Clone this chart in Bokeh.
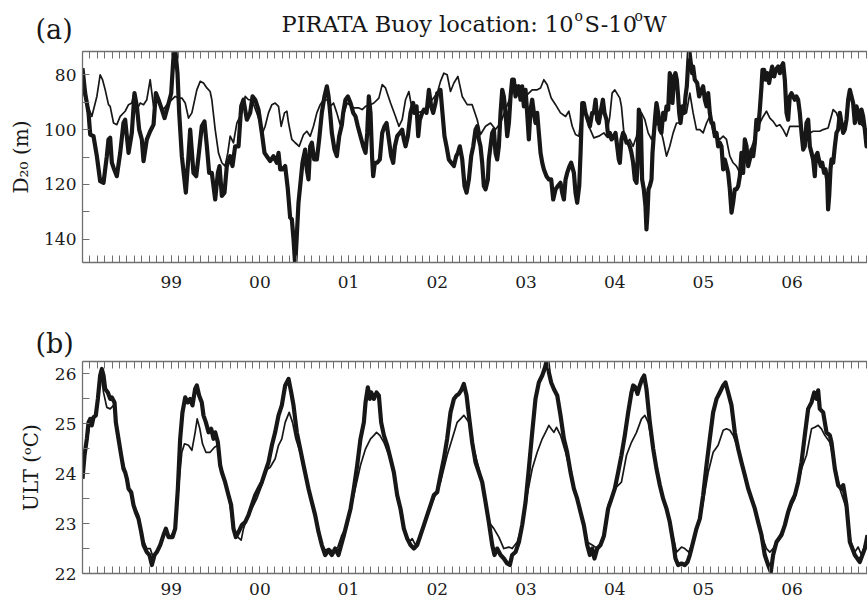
from bokeh.core.properties import value
from bokeh.embed import file_html
from bokeh.layouts import column, row
from bokeh.models import CustomJSTickFormatter, FixedTicker, LinearAxis, Range1d
from bokeh.plotting import figure
from bokeh.resources import INLINE

# ---------------------------------------------------------------------------
# PIRATA buoy 10S-10W: 20-degree isotherm depth (m) and upper-layer temperature
# (degC). Times are decimal years; "thick" is the heavy curve, "thin" the light one.
# ---------------------------------------------------------------------------
D20_THICK = [
    (1998.000, 77.6), (1998.030, 86.7), (1998.068, 93.9), (1998.087, 101.8), (1998.124, 102.4),
    (1998.162, 109.7), (1998.199, 118.8), (1998.237, 119.4), (1998.274, 109.7), (1998.293, 103.6),
    (1998.312, 103.0), (1998.331, 112.1), (1998.350, 113.9), (1998.387, 117.0), (1998.425, 108.5),
    (1998.462, 97.6), (1998.481, 96.4), (1998.519, 108.5), (1998.556, 101.2), (1998.586, 86.7),
    (1998.613, 91.5), (1998.639, 100.0), (1998.669, 103.6), (1998.688, 111.5), (1998.725, 103.6),
    (1998.763, 100.6), (1998.801, 98.2), (1998.827, 86.7), (1998.857, 89.1), (1998.895, 92.7),
    (1998.925, 95.8), (1998.962, 91.5), (1999.000, 86.7), (1999.026, 73.3), (1999.045, 70.5),
    (1999.071, 79.4), (1999.090, 93.9), (1999.120, 109.7), (1999.165, 123.0), (1999.195, 109.7),
    (1999.214, 100.0), (1999.251, 115.8), (1999.282, 117.0), (1999.308, 109.7), (1999.345, 98.8),
    (1999.375, 97.0), (1999.402, 106.1), (1999.428, 115.8), (1999.458, 115.8), (1999.496, 125.5),
    (1999.526, 115.8), (1999.545, 113.3), (1999.571, 124.2), (1999.601, 123.0), (1999.627, 113.3),
    (1999.665, 109.7), (1999.691, 113.3), (1999.721, 106.1), (1999.759, 106.1), (1999.789, 91.5),
    (1999.815, 89.1), (1999.853, 96.4), (1999.890, 93.9), (1999.917, 87.9), (1999.947, 89.1),
    (1999.984, 92.7), (2000.022, 101.2), (2000.052, 108.5), (2000.078, 109.7), (2000.116, 111.5),
    (2000.153, 109.7), (2000.191, 112.1), (2000.210, 108.5), (2000.229, 114.5), (2000.255, 114.5),
    (2000.285, 113.3), (2000.315, 121.8), (2000.341, 132.1), (2000.360, 132.7), (2000.379, 140.0),
    (2000.398, 149.5), (2000.416, 138.8), (2000.435, 126.7), (2000.454, 120.6), (2000.480, 112.1),
    (2000.510, 107.3), (2000.529, 114.5), (2000.548, 118.2), (2000.567, 106.1), (2000.586, 104.8),
    (2000.612, 110.9), (2000.642, 110.9), (2000.668, 103.6), (2000.698, 93.9), (2000.728, 87.9),
    (2000.755, 84.2), (2000.774, 87.9), (2000.792, 93.9), (2000.811, 101.2), (2000.841, 107.3),
    (2000.867, 109.7), (2000.894, 102.4), (2000.924, 98.2), (2000.939, 93.9), (2000.965, 89.1),
    (2000.992, 87.9), (2001.022, 90.3), (2001.052, 93.9), (2001.078, 95.2), (2001.104, 98.8),
    (2001.134, 102.4), (2001.165, 106.1), (2001.191, 108.5), (2001.210, 101.2), (2001.228, 87.9),
    (2001.247, 93.9), (2001.266, 110.9), (2001.277, 117.0), (2001.296, 112.1), (2001.322, 112.1),
    (2001.352, 110.9), (2001.379, 101.2), (2001.405, 98.8), (2001.428, 97.6), (2001.454, 103.6),
    (2001.480, 109.7), (2001.503, 112.1), (2001.522, 106.1), (2001.548, 102.4), (2001.578, 101.2),
    (2001.604, 100.0), (2001.623, 103.6), (2001.642, 106.1), (2001.668, 102.4), (2001.698, 93.9),
    (2001.728, 90.3), (2001.743, 93.9), (2001.766, 91.5), (2001.785, 102.4), (2001.803, 96.4),
    (2001.830, 93.9), (2001.849, 92.7), (2001.879, 93.9), (2001.905, 85.5), (2001.931, 91.5),
    (2001.954, 93.9), (2001.980, 90.3), (2001.999, 86.7), (2002.018, 86.7), (2002.036, 85.5),
    (2002.055, 92.7), (2002.081, 102.4), (2002.104, 106.1), (2002.130, 110.9), (2002.157, 112.1),
    (2002.187, 113.3), (2002.213, 109.7), (2002.232, 108.5), (2002.254, 106.1), (2002.281, 110.9),
    (2002.307, 120.6), (2002.330, 123.0), (2002.356, 118.2), (2002.382, 109.7), (2002.405, 106.1),
    (2002.431, 100.0), (2002.450, 98.8), (2002.469, 103.6), (2002.487, 106.1), (2002.506, 112.1),
    (2002.525, 120.6), (2002.544, 121.8), (2002.570, 118.2), (2002.581, 110.9), (2002.600, 106.1),
    (2002.619, 101.2), (2002.638, 100.0), (2002.656, 108.5), (2002.675, 110.9), (2002.694, 106.1),
    (2002.713, 93.9), (2002.732, 85.5), (2002.750, 87.9), (2002.769, 93.9), (2002.788, 102.4),
    (2002.807, 97.6), (2002.826, 87.9), (2002.844, 81.8), (2002.863, 81.8), (2002.882, 87.9),
    (2002.901, 85.5), (2002.920, 84.2), (2002.938, 89.1), (2002.957, 84.2), (2002.976, 91.5),
    (2002.995, 85.5), (2003.013, 93.9), (2003.032, 103.6), (2003.051, 92.7), (2003.070, 89.1),
    (2003.089, 93.9), (2003.107, 97.6), (2003.126, 93.9), (2003.145, 101.2), (2003.164, 108.5),
    (2003.183, 112.1), (2003.201, 114.5), (2003.231, 117.0), (2003.258, 118.2), (2003.284, 118.2),
    (2003.307, 125.5), (2003.333, 121.8), (2003.359, 120.6), (2003.389, 119.4), (2003.408, 123.0),
    (2003.427, 125.5), (2003.446, 118.2), (2003.464, 115.8), (2003.491, 113.3), (2003.509, 112.1),
    (2003.540, 115.8), (2003.558, 123.0), (2003.577, 126.7), (2003.600, 120.6), (2003.615, 108.5),
    (2003.634, 90.3), (2003.652, 90.3), (2003.671, 93.9), (2003.697, 96.4), (2003.720, 98.8),
    (2003.746, 93.9), (2003.765, 93.9), (2003.784, 89.1), (2003.803, 96.4), (2003.821, 97.6),
    (2003.840, 93.9), (2003.867, 89.1), (2003.885, 93.9), (2003.908, 96.4), (2003.926, 102.4),
    (2003.945, 101.2), (2003.964, 103.6), (2003.990, 102.4), (2004.009, 101.2), (2004.028, 106.1),
    (2004.046, 110.9), (2004.058, 112.1), (2004.076, 103.6), (2004.095, 101.2), (2004.114, 102.4),
    (2004.133, 104.8), (2004.152, 104.8), (2004.170, 106.1), (2004.189, 108.5), (2004.208, 112.1),
    (2004.227, 118.2), (2004.246, 119.4), (2004.257, 113.3), (2004.272, 92.7), (2004.283, 93.9),
    (2004.294, 96.4), (2004.309, 118.2), (2004.328, 121.8), (2004.347, 127.9), (2004.358, 136.4),
    (2004.370, 130.3), (2004.381, 121.8), (2004.396, 120.6), (2004.415, 118.2), (2004.426, 108.5),
    (2004.445, 100.0), (2004.460, 93.9), (2004.471, 90.3), (2004.490, 93.9), (2004.509, 100.0),
    (2004.527, 101.2), (2004.546, 93.9), (2004.565, 96.4), (2004.584, 91.5), (2004.603, 92.7),
    (2004.621, 79.4), (2004.640, 81.8), (2004.651, 90.3), (2004.670, 80.6), (2004.685, 79.4),
    (2004.700, 81.8), (2004.715, 87.9), (2004.727, 93.9), (2004.742, 97.6), (2004.764, 91.5),
    (2004.783, 93.9), (2004.798, 87.9), (2004.813, 84.2), (2004.828, 75.8), (2004.839, 70.5),
    (2004.858, 75.8), (2004.873, 79.4), (2004.884, 77.0), (2004.903, 81.8), (2004.930, 83.0),
    (2004.952, 87.9), (2004.978, 85.5), (2004.997, 84.2), (2005.016, 89.1), (2005.035, 91.5),
    (2005.054, 86.7), (2005.072, 93.9), (2005.091, 97.6), (2005.110, 97.6), (2005.129, 102.4),
    (2005.148, 101.2), (2005.166, 106.1), (2005.185, 104.8), (2005.204, 106.1), (2005.223, 114.5),
    (2005.241, 110.9), (2005.260, 113.3), (2005.279, 115.8), (2005.298, 121.8), (2005.317, 130.3),
    (2005.335, 126.7), (2005.354, 121.8), (2005.373, 121.8), (2005.392, 120.6), (2005.411, 117.0),
    (2005.429, 108.5), (2005.448, 115.8), (2005.467, 103.6), (2005.486, 106.1), (2005.505, 113.3),
    (2005.523, 110.9), (2005.542, 107.3), (2005.561, 109.7), (2005.580, 104.8), (2005.598, 96.4),
    (2005.617, 100.0), (2005.636, 92.7), (2005.655, 84.2), (2005.666, 78.2), (2005.685, 78.2),
    (2005.700, 81.8), (2005.719, 79.4), (2005.741, 83.0), (2005.760, 79.4), (2005.775, 77.0),
    (2005.798, 80.6), (2005.816, 78.2), (2005.843, 77.0), (2005.862, 79.4), (2005.880, 77.0),
    (2005.899, 75.8), (2005.918, 81.8), (2005.937, 93.9), (2005.955, 96.4), (2005.974, 87.9),
    (2005.993, 86.7), (2006.012, 87.9), (2006.031, 89.1), (2006.049, 87.9), (2006.068, 89.1),
    (2006.087, 93.9), (2006.106, 101.2), (2006.125, 107.3), (2006.143, 106.1), (2006.162, 97.6),
    (2006.181, 96.4), (2006.200, 106.1), (2006.219, 108.5), (2006.237, 110.9), (2006.256, 117.0),
    (2006.267, 109.7), (2006.286, 108.5), (2006.301, 110.9), (2006.324, 113.3), (2006.339, 112.1),
    (2006.361, 115.8), (2006.376, 114.5), (2006.395, 118.2), (2006.406, 129.1), (2006.418, 124.2),
    (2006.433, 114.5), (2006.444, 110.9), (2006.463, 112.1), (2006.482, 106.1), (2006.500, 101.2),
    (2006.519, 100.0), (2006.538, 93.9), (2006.557, 97.6), (2006.576, 101.2), (2006.594, 100.0),
    (2006.613, 96.4), (2006.632, 89.1), (2006.651, 85.5), (2006.670, 87.9), (2006.688, 90.3),
    (2006.707, 97.6), (2006.726, 91.5), (2006.745, 93.9), (2006.763, 97.6), (2006.782, 92.7),
    (2006.801, 95.2), (2006.820, 100.0), (2006.839, 106.1), (2006.860, 104.8),
]

D20_THIN = [
    (1998.000, 85.5), (1998.049, 90.3), (1998.105, 95.2), (1998.162, 87.9), (1998.199, 80.0),
    (1998.226, 81.8), (1998.256, 85.5), (1998.293, 90.9), (1998.312, 91.5), (1998.350, 97.6),
    (1998.387, 98.2), (1998.425, 95.2), (1998.481, 93.3), (1998.519, 90.9), (1998.556, 90.3),
    (1998.575, 87.3), (1998.613, 92.7), (1998.650, 90.3), (1998.688, 90.9), (1998.725, 89.1),
    (1998.763, 81.8), (1998.801, 91.5), (1998.838, 86.7), (1998.876, 90.9), (1998.913, 92.7),
    (1998.951, 90.9), (1998.988, 89.7), (1999.045, 87.9), (1999.082, 88.5), (1999.120, 88.5),
    (1999.158, 90.3), (1999.195, 95.8), (1999.233, 93.9), (1999.289, 85.5), (1999.327, 82.4),
    (1999.364, 83.0), (1999.402, 84.8), (1999.439, 86.1), (1999.458, 89.1), (1999.496, 100.0),
    (1999.533, 108.5), (1999.571, 112.1), (1999.608, 113.3), (1999.638, 108.5), (1999.665, 102.4),
    (1999.702, 104.8), (1999.740, 97.6), (1999.796, 93.9), (1999.834, 87.9), (1999.871, 89.1),
    (1999.909, 89.1), (1999.965, 93.9), (2000.003, 97.6), (2000.029, 101.2), (2000.059, 98.8),
    (2000.097, 93.9), (2000.135, 90.9), (2000.172, 90.3), (2000.210, 91.5), (2000.240, 98.8),
    (2000.277, 93.9), (2000.304, 93.3), (2000.323, 97.6), (2000.360, 103.6), (2000.398, 104.8),
    (2000.443, 106.1), (2000.492, 101.8), (2000.529, 100.6), (2000.567, 102.4), (2000.604, 98.8),
    (2000.642, 93.9), (2000.680, 90.9), (2000.717, 89.1), (2000.755, 89.1), (2000.792, 91.5),
    (2000.830, 90.3), (2000.867, 93.9), (2000.905, 98.2), (2000.984, 90.3), (2001.059, 92.1),
    (2001.116, 92.1), (2001.153, 92.7), (2001.191, 91.5), (2001.247, 90.9), (2001.285, 90.3),
    (2001.341, 88.5), (2001.379, 83.6), (2001.416, 84.8), (2001.473, 90.3), (2001.529, 95.2),
    (2001.567, 98.8), (2001.604, 96.4), (2001.642, 89.1), (2001.679, 86.1), (2001.717, 92.7),
    (2001.773, 93.9), (2001.830, 93.3), (2001.886, 91.5), (2001.942, 89.1), (2001.999, 86.7),
    (2002.036, 82.4), (2002.074, 79.4), (2002.111, 80.0), (2002.149, 86.1), (2002.187, 83.0),
    (2002.232, 80.6), (2002.281, 87.9), (2002.337, 90.9), (2002.393, 90.9), (2002.450, 96.4),
    (2002.487, 101.8), (2002.544, 98.8), (2002.600, 97.6), (2002.656, 100.0), (2002.713, 97.6),
    (2002.769, 92.7), (2002.826, 87.9), (2002.882, 83.6), (2002.920, 84.2), (2002.976, 88.5),
    (2003.032, 86.7), (2003.070, 85.5), (2003.126, 85.5), (2003.164, 84.8), (2003.201, 81.8),
    (2003.239, 83.6), (2003.284, 88.5), (2003.333, 90.9), (2003.389, 93.9), (2003.446, 95.2),
    (2003.483, 93.3), (2003.521, 98.8), (2003.558, 101.8), (2003.596, 102.4), (2003.622, 95.8),
    (2003.660, 93.3), (2003.709, 98.8), (2003.765, 103.0), (2003.821, 102.4), (2003.878, 101.2),
    (2003.907, 102.4), (2003.945, 95.2), (2003.971, 86.7), (2004.001, 85.5), (2004.058, 88.5),
    (2004.076, 91.5), (2004.107, 102.4), (2004.133, 104.8), (2004.170, 103.6), (2004.208, 106.1),
    (2004.246, 102.4), (2004.272, 97.6), (2004.302, 93.9), (2004.340, 96.4), (2004.377, 101.2),
    (2004.415, 103.6), (2004.445, 100.0), (2004.471, 97.6), (2004.509, 98.8), (2004.546, 103.6),
    (2004.584, 109.7), (2004.621, 106.1), (2004.659, 101.2), (2004.697, 97.6), (2004.734, 97.6),
    (2004.772, 93.9), (2004.809, 93.9), (2004.847, 86.7), (2004.884, 93.9), (2004.922, 100.0),
    (2004.960, 100.0), (2004.997, 101.2), (2005.035, 97.6), (2005.072, 95.2), (2005.110, 101.2),
    (2005.148, 102.4), (2005.185, 103.6), (2005.223, 102.4), (2005.260, 103.6), (2005.298, 109.7),
    (2005.335, 112.1), (2005.373, 113.3), (2005.411, 115.8), (2005.448, 113.3), (2005.486, 109.7),
    (2005.523, 108.5), (2005.561, 104.8), (2005.598, 100.0), (2005.636, 97.6), (2005.674, 95.2),
    (2005.711, 93.3), (2005.749, 95.8), (2005.786, 97.0), (2005.824, 98.8), (2005.862, 98.2),
    (2005.899, 100.0), (2005.937, 102.4), (2005.974, 98.8), (2006.012, 98.8), (2006.049, 98.8),
    (2006.087, 98.8), (2006.125, 101.2), (2006.162, 102.4), (2006.200, 101.2), (2006.237, 100.6),
    (2006.275, 100.6), (2006.312, 100.6), (2006.350, 100.0), (2006.406, 99.4), (2006.463, 92.7),
    (2006.500, 93.9), (2006.538, 97.6), (2006.576, 101.2), (2006.613, 97.6), (2006.651, 86.7),
    (2006.688, 91.5), (2006.726, 93.9), (2006.763, 97.6), (2006.801, 98.8), (2006.839, 100.0),
]

ULT_THICK = [
    (1998.000, 23.90), (1998.023, 24.37), (1998.049, 24.70), (1998.068, 25.03), (1998.087, 25.10),
    (1998.105, 24.97), (1998.124, 25.13), (1998.150, 25.17), (1998.173, 25.50), (1998.199, 25.97),
    (1998.218, 26.10), (1998.237, 25.97), (1998.256, 25.70), (1998.286, 25.63), (1998.312, 25.50),
    (1998.331, 25.53), (1998.361, 25.43), (1998.376, 25.03), (1998.406, 24.70), (1998.436, 24.37),
    (1998.462, 24.10), (1998.481, 24.03), (1998.500, 23.90), (1998.519, 23.70), (1998.549, 23.63),
    (1998.575, 23.37), (1998.601, 23.23), (1998.631, 23.10), (1998.662, 22.83), (1998.688, 22.57),
    (1998.725, 22.43), (1998.755, 22.37), (1998.782, 22.17), (1998.812, 22.37), (1998.838, 22.43),
    (1998.876, 22.57), (1998.913, 22.77), (1998.940, 22.90), (1998.970, 22.73), (1999.015, 22.73),
    (1999.045, 22.90), (1999.075, 23.70), (1999.101, 24.70), (1999.127, 25.23), (1999.158, 25.53),
    (1999.188, 25.43), (1999.214, 25.50), (1999.240, 25.37), (1999.270, 25.70), (1999.289, 25.77),
    (1999.315, 25.57), (1999.345, 25.43), (1999.364, 25.17), (1999.391, 25.03), (1999.421, 24.83),
    (1999.451, 24.90), (1999.477, 24.70), (1999.496, 24.83), (1999.526, 24.63), (1999.552, 24.17),
    (1999.571, 24.03), (1999.608, 23.83), (1999.646, 23.57), (1999.676, 23.37), (1999.702, 22.90),
    (1999.729, 22.73), (1999.759, 22.83), (1999.796, 22.97), (1999.834, 23.03), (1999.871, 23.17),
    (1999.909, 23.37), (1999.947, 23.57), (1999.984, 23.70), (2000.022, 23.83), (2000.059, 24.03),
    (2000.097, 24.23), (2000.135, 24.57), (2000.172, 24.83), (2000.210, 25.17), (2000.247, 25.37),
    (2000.285, 25.77), (2000.323, 25.90), (2000.353, 25.63), (2000.379, 25.37), (2000.416, 24.83),
    (2000.454, 24.50), (2000.492, 24.17), (2000.548, 23.70), (2000.586, 23.43), (2000.623, 23.17),
    (2000.661, 22.83), (2000.698, 22.57), (2000.736, 22.37), (2000.774, 22.47), (2000.811, 22.37),
    (2000.849, 22.50), (2000.886, 22.37), (2000.947, 22.77), (2000.984, 23.03), (2001.022, 23.30),
    (2001.059, 23.70), (2001.097, 24.17), (2001.134, 24.70), (2001.172, 25.03), (2001.191, 25.43),
    (2001.217, 25.73), (2001.240, 25.50), (2001.255, 25.63), (2001.285, 25.50), (2001.315, 25.63),
    (2001.341, 25.57), (2001.367, 25.03), (2001.398, 24.77), (2001.435, 24.57), (2001.473, 24.30),
    (2001.510, 24.03), (2001.548, 23.57), (2001.585, 23.30), (2001.623, 22.90), (2001.661, 22.70),
    (2001.698, 22.57), (2001.736, 22.50), (2001.773, 22.57), (2001.811, 22.77), (2001.849, 22.97),
    (2001.886, 23.17), (2001.924, 23.37), (2001.961, 23.57), (2001.999, 23.63), (2002.036, 23.97),
    (2002.074, 24.30), (2002.111, 24.70), (2002.149, 25.23), (2002.187, 25.50), (2002.217, 25.57),
    (2002.243, 25.60), (2002.269, 25.67), (2002.299, 25.80), (2002.330, 25.57), (2002.356, 25.17),
    (2002.393, 24.63), (2002.431, 24.23), (2002.469, 24.03), (2002.506, 23.83), (2002.544, 23.43),
    (2002.581, 23.03), (2002.619, 22.57), (2002.645, 22.37), (2002.675, 22.50), (2002.713, 22.37),
    (2002.750, 22.30), (2002.788, 22.20), (2002.818, 22.17), (2002.844, 22.37), (2002.882, 22.43),
    (2002.920, 22.63), (2002.957, 22.97), (2002.995, 23.43), (2003.032, 24.10), (2003.070, 24.83),
    (2003.107, 25.50), (2003.145, 25.83), (2003.183, 25.97), (2003.209, 26.10), (2003.239, 26.30),
    (2003.258, 26.03), (2003.284, 25.83), (2003.314, 25.70), (2003.352, 25.57), (2003.389, 25.17),
    (2003.427, 24.70), (2003.464, 24.43), (2003.502, 24.03), (2003.540, 23.70), (2003.577, 23.50),
    (2003.615, 23.23), (2003.652, 22.97), (2003.690, 22.57), (2003.720, 22.37), (2003.746, 22.50),
    (2003.772, 22.30), (2003.803, 22.50), (2003.840, 22.57), (2003.878, 22.75), (2003.926, 23.30),
    (2003.964, 23.50), (2004.001, 23.70), (2004.039, 24.03), (2004.076, 24.37), (2004.114, 24.77),
    (2004.152, 25.23), (2004.189, 25.63), (2004.208, 25.77), (2004.234, 25.73), (2004.257, 25.60),
    (2004.283, 25.77), (2004.309, 25.90), (2004.332, 25.97), (2004.358, 25.70), (2004.396, 25.03),
    (2004.434, 24.50), (2004.471, 24.10), (2004.509, 23.77), (2004.546, 23.50), (2004.584, 23.30),
    (2004.621, 23.03), (2004.659, 22.63), (2004.685, 22.30), (2004.715, 22.17), (2004.753, 22.20),
    (2004.790, 22.17), (2004.821, 22.23), (2004.847, 22.37), (2004.884, 22.63), (2004.922, 22.90),
    (2004.960, 23.10), (2004.997, 23.57), (2005.035, 24.17), (2005.072, 24.70), (2005.110, 25.23),
    (2005.148, 25.50), (2005.185, 25.63), (2005.223, 25.77), (2005.249, 25.83), (2005.279, 25.63),
    (2005.317, 25.37), (2005.354, 24.83), (2005.392, 24.50), (2005.429, 24.23), (2005.467, 23.97),
    (2005.505, 23.70), (2005.542, 23.50), (2005.580, 23.30), (2005.617, 23.03), (2005.655, 22.77),
    (2005.692, 22.37), (2005.730, 22.17), (2005.760, 22.03), (2005.786, 22.37), (2005.824, 22.63),
    (2005.880, 22.77), (2005.918, 22.97), (2005.955, 23.23), (2005.993, 23.43), (2006.031, 23.57),
    (2006.068, 23.83), (2006.106, 24.23), (2006.143, 24.77), (2006.181, 25.30), (2006.219, 25.43),
    (2006.249, 25.63), (2006.275, 25.50), (2006.294, 25.67), (2006.312, 25.30), (2006.350, 25.23),
    (2006.388, 24.83), (2006.425, 24.77), (2006.444, 24.63), (2006.482, 24.10), (2006.519, 23.77),
    (2006.557, 23.70), (2006.576, 23.77), (2006.613, 23.37), (2006.651, 22.63), (2006.707, 22.37),
    (2006.763, 22.23), (2006.820, 22.50), (2006.850, 22.77),
]

ULT_THIN = [
    (1998.000, 23.97), (1998.049, 24.63), (1998.087, 25.03), (1998.143, 25.17), (1998.180, 25.57),
    (1998.211, 25.97), (1998.237, 25.63), (1998.274, 25.33), (1998.312, 25.30), (1998.350, 25.37),
    (1998.387, 24.97), (1998.436, 24.37), (1998.481, 24.07), (1998.526, 23.70), (1998.575, 23.40),
    (1998.631, 23.17), (1998.677, 22.70), (1998.725, 22.50), (1998.763, 22.50), (1998.801, 22.30),
    (1998.838, 22.43), (1998.887, 22.63), (1998.940, 22.87), (1998.988, 22.73), (1999.045, 22.90),
    (1999.082, 23.70), (1999.120, 24.43), (1999.150, 24.60), (1999.195, 24.57), (1999.233, 24.47),
    (1999.270, 24.83), (1999.293, 25.10), (1999.323, 24.90), (1999.353, 24.60), (1999.391, 24.43),
    (1999.439, 24.43), (1999.488, 24.53), (1999.526, 24.57), (1999.563, 24.10), (1999.608, 23.80),
    (1999.653, 23.50), (1999.702, 22.87), (1999.751, 22.73), (1999.789, 22.67), (1999.815, 22.90),
    (1999.853, 23.10), (1999.909, 23.30), (1999.965, 23.50), (2000.022, 23.77), (2000.067, 24.07),
    (2000.116, 24.13), (2000.172, 24.30), (2000.210, 24.57), (2000.247, 24.70), (2000.285, 25.03),
    (2000.330, 25.23), (2000.368, 25.03), (2000.405, 24.70), (2000.454, 24.43), (2000.503, 24.10),
    (2000.548, 23.70), (2000.593, 23.37), (2000.642, 22.97), (2000.691, 22.60), (2000.736, 22.47),
    (2000.781, 22.50), (2000.830, 22.43), (2000.879, 22.53), (2000.924, 22.77), (2000.984, 22.97),
    (2001.059, 23.57), (2001.134, 24.17), (2001.191, 24.50), (2001.247, 24.70), (2001.285, 24.77),
    (2001.315, 24.83), (2001.352, 24.77), (2001.398, 24.63), (2001.454, 24.37), (2001.510, 24.03),
    (2001.567, 23.43), (2001.623, 22.90), (2001.679, 22.63), (2001.717, 22.70), (2001.754, 22.57),
    (2001.811, 22.77), (2001.886, 23.17), (2001.961, 23.50), (2002.036, 23.83), (2002.111, 24.37),
    (2002.168, 24.70), (2002.224, 25.03), (2002.262, 25.10), (2002.299, 25.17), (2002.356, 25.03),
    (2002.412, 24.50), (2002.469, 24.10), (2002.525, 23.63), (2002.581, 23.03), (2002.638, 22.90),
    (2002.694, 22.73), (2002.750, 22.50), (2002.807, 22.53), (2002.844, 22.50), (2002.901, 22.63),
    (2002.957, 22.97), (2003.013, 23.57), (2003.070, 24.10), (2003.126, 24.43), (2003.183, 24.70),
    (2003.220, 24.83), (2003.258, 24.97), (2003.284, 24.90), (2003.314, 24.83), (2003.344, 24.93),
    (2003.389, 24.77), (2003.446, 24.43), (2003.502, 24.03), (2003.558, 23.60), (2003.615, 23.23),
    (2003.690, 22.63), (2003.746, 22.57), (2003.803, 22.50), (2003.878, 22.70), (2003.926, 23.37),
    (2004.001, 23.70), (2004.076, 23.83), (2004.133, 24.37), (2004.189, 24.63), (2004.246, 24.83),
    (2004.302, 25.10), (2004.340, 25.17), (2004.377, 25.03), (2004.434, 24.50), (2004.490, 23.97),
    (2004.546, 23.50), (2004.621, 23.03), (2004.697, 22.43), (2004.753, 22.53), (2004.790, 22.50),
    (2004.835, 22.43), (2004.884, 22.63), (2004.941, 23.03), (2004.978, 23.23), (2005.054, 24.03),
    (2005.110, 24.43), (2005.166, 24.57), (2005.223, 24.87), (2005.260, 24.90), (2005.298, 24.87),
    (2005.335, 24.77), (2005.392, 24.50), (2005.429, 24.23), (2005.505, 23.70), (2005.580, 23.30),
    (2005.655, 22.77), (2005.711, 22.50), (2005.749, 22.43), (2005.786, 22.50), (2005.843, 22.70),
    (2005.918, 22.97), (2005.974, 23.30), (2006.031, 23.50), (2006.106, 24.10), (2006.162, 24.37),
    (2006.219, 24.90), (2006.256, 24.93), (2006.294, 24.97), (2006.331, 24.90), (2006.369, 24.77),
    (2006.425, 24.63), (2006.482, 24.17), (2006.538, 23.70), (2006.613, 23.30), (2006.662, 22.63),
    (2006.707, 22.43), (2006.745, 22.53), (2006.782, 22.37), (2006.850, 22.73),
]

# Axis ticks and labels
YEAR_TICKS = [1999, 2000, 2001, 2002, 2003, 2004, 2005, 2006]
D20_TICKS = [80, 100, 120, 140]
D20_MINOR = [90, 110, 130]
ULT_TICKS = [22, 23, 24, 25, 26]
ULT_MINOR = [22.5, 23.5, 24.5, 25.5]
D20_NAME = "D\u2082\u2080 (m)"
ULT_NAME = "ULT (\u1d52C)"

SERIF = "DejaVu Serif"
INK = "#171717"
FRAME = "#6f6f6f"
MONTH_TICKS = [1998 + m / 12 for m in range(0, 12 * 9 + 1)]


def split(pairs):
    return [t for t, _ in pairs], [v for _, v in pairs]


def style_axis(ax, standoff):
    ax.axis_line_color = FRAME
    ax.axis_line_width = 1.3
    ax.major_tick_line_color = FRAME
    ax.minor_tick_line_color = FRAME
    ax.major_tick_in = 7
    ax.major_tick_out = 0
    ax.minor_tick_in = 7
    ax.minor_tick_out = 0
    ax.major_label_text_font = SERIF
    ax.major_label_text_font_size = "17px"
    ax.major_label_text_color = "#1c1c1c"
    ax.major_label_standoff = standoff


def make_panel(height, y_range, y_ticks, y_minor, name, name_standoff, bottom, standoff):
    p = figure(width=867, height=height, output_backend="svg", toolbar_location=None,
               title=None, x_range=Range1d(1998.0, 2006.85), y_range=y_range,
               x_axis_location=None, y_axis_location=None,
               min_border_left=82, min_border_right=0,
               min_border_top=2, min_border_bottom=bottom)
    p.outline_line_color = None
    p.grid.visible = False

    below = LinearAxis(ticker=FixedTicker(ticks=YEAR_TICKS, minor_ticks=MONTH_TICKS),
                       formatter=CustomJSTickFormatter(
                           code="return String(Math.round(tick) % 100).padStart(2, '0');"))
    style_axis(below, standoff)
    p.add_layout(below, "below")

    above = LinearAxis(ticker=FixedTicker(ticks=YEAR_TICKS, minor_ticks=MONTH_TICKS),
                       formatter=CustomJSTickFormatter(code="return '';"))
    style_axis(above, 0)
    p.add_layout(above, "above")

    side = LinearAxis(ticker=FixedTicker(ticks=y_ticks, minor_ticks=y_minor),
                      axis_label=name)
    style_axis(side, 6)
    side.axis_label_text_font = SERIF
    side.axis_label_text_font_size = "20px"
    side.axis_label_text_font_style = "normal"
    side.axis_label_text_color = INK
    side.axis_label_standoff = name_standoff
    p.add_layout(side, "left")
    return p


def sheet(width, height):
    """Blank figure whose frame fills it; used for the headings."""
    c = figure(width=width, height=height, output_backend="svg", toolbar_location=None,
               title=None, x_range=Range1d(0, width), y_range=Range1d(0, height),
               x_axis_location=None, y_axis_location=None,
               min_border=0, min_border_left=0, min_border_right=0,
               min_border_top=0, min_border_bottom=0)
    c.outline_line_color = None
    c.grid.visible = False
    return c


def write(c, s, x, y, size, align="left"):
    c.text(x=[x], y=[y], text=[s], text_font=value(SERIF),
           text_font_size=value(size), text_color=INK,
           text_align=align, text_baseline="alphabetic")


# ---- heading of panel (a) ---------------------------------------------------
head_a = sheet(867, 49)
write(head_a, "(a)", 35, 20.5, "27px")
write(head_a, "PIRATA Buoy location: 10", 573, 26, "22.5px", align="right")
write(head_a, "o", 574, 34, "14px")
write(head_a, "S-10", 584, 26, "22.5px")
write(head_a, "o", 634, 34, "14px")
write(head_a, "W", 643, 26, "22.5px")

# ---- panel (a): D20 ---------------------------------------------------------
pa = make_panel(251, Range1d(148.5, 71.5), D20_TICKS, D20_MINOR, D20_NAME, 8,
                bottom=38, standoff=13)
t, v = split(D20_THIN)
pa.line(t, v, line_width=1.7, line_color=INK, line_join="round")
t, v = split(D20_THICK)
pa.line(t, v, line_width=4.2, line_color=INK, line_join="round")

# ---- heading of panel (b) ---------------------------------------------------
head_b = sheet(867, 59)
write(head_b, "(b)", 35, 16.5, "27px")

# ---- panel (b): ULT ---------------------------------------------------------
pb = make_panel(243, Range1d(22.0, 26.25), ULT_TICKS, ULT_MINOR, ULT_NAME, 9,
                bottom=29, standoff=9)
t, v = split(ULT_THIN)
pb.line(t, v, line_width=1.7, line_color=INK, line_join="round")
t, v = split(ULT_THICK)
pb.line(t, v, line_width=4.2, line_color=INK, line_join="round")

# each plot sits in its own row so the headings keep their full width
page = column(head_a, row(pa), head_b, row(pb), spacing=0)
open("out.html", "w").write(file_html(page, INLINE))
